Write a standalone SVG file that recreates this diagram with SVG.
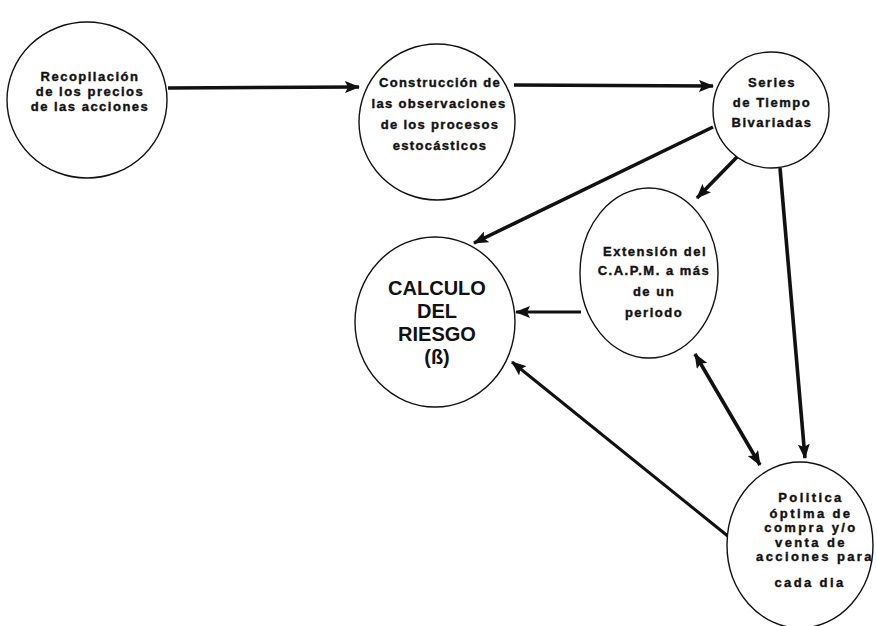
<svg xmlns="http://www.w3.org/2000/svg" width="877" height="626" viewBox="0 0 877 626">
<style>
.node ellipse{fill:#fff;stroke:#111;stroke-width:1.4}
.t{font-family:"Liberation Sans",Arial,sans-serif;font-weight:bold;font-size:13px;letter-spacing:1.5px;fill:#111;stroke:#111;stroke-width:0.4;text-anchor:middle}
.big{font-family:"Liberation Sans",Arial,sans-serif;font-weight:bold;font-size:20px;fill:#111;text-anchor:middle}
.c line{stroke:#111;stroke-width:3.6;fill:none}
</style>
<defs>
<marker id="ah" markerUnits="userSpaceOnUse" markerWidth="16" markerHeight="12" refX="14" refY="6" orient="auto">
<path d="M0,0 L15,6 L0,12 L3,6 Z" fill="#111"/>
</marker>
<marker id="ahs" markerUnits="userSpaceOnUse" markerWidth="16" markerHeight="12" refX="14" refY="6" orient="auto-start-reverse">
<path d="M0,0 L15,6 L0,12 L3,6 Z" fill="#111"/>
</marker>
</defs>
<g class="c" id="connectors">
<line x1="168" y1="88" x2="359" y2="87" marker-end="url(#ah)"/>
<line x1="514" y1="85" x2="713" y2="86" marker-end="url(#ah)"/>
<line x1="713" y1="127" x2="474" y2="243" marker-end="url(#ah)"/>
<line x1="737" y1="157" x2="697" y2="198" marker-end="url(#ah)"/>
<line x1="780" y1="168" x2="805" y2="458" marker-end="url(#ah)"/>
<line x1="581" y1="312" x2="516" y2="312" marker-end="url(#ah)" style="stroke-width:3"/>
<line x1="695" y1="354" x2="760" y2="465" marker-start="url(#ahs)" marker-end="url(#ahs)"/>
<line x1="729" y1="537" x2="512" y2="362" marker-end="url(#ah)" style="stroke-width:3"/>
</g>
<g class="node" id="n1">
<ellipse cx="87" cy="100" rx="80" ry="78"/>
<text class="t"><tspan x="90" y="81">Recopilación</tspan><tspan x="90" y="96">de los precios</tspan><tspan x="90" y="111">de las acciones</tspan></text>
</g>
<g class="node" id="n2">
<ellipse cx="437" cy="122" rx="78" ry="78"/>
<text class="t" style="letter-spacing:1.3px"><tspan x="440" y="87">Construcción de</tspan><tspan x="439" y="108">las observaciones</tspan><tspan x="440" y="129">de los procesos</tspan><tspan x="440" y="150">estocásticos</tspan></text>
</g>
<g class="node" id="n3">
<ellipse cx="771" cy="110" rx="58" ry="58"/>
<text class="t"><tspan x="772" y="87">Series</tspan><tspan x="772" y="107">de Tiempo</tspan><tspan x="772" y="127">Bivariadas</tspan></text>
</g>
<g class="node" id="n4">
<ellipse cx="649" cy="273" rx="69" ry="85"/>
<text class="t"><tspan x="655" y="256">Extensión del</tspan><tspan x="654" y="275">C.A.P.M. a más</tspan><tspan x="654" y="296">de un</tspan><tspan x="654" y="317">periodo</tspan></text>
</g>
<g class="node" id="n5">
<ellipse cx="435" cy="322" rx="80" ry="85"/>
<text class="big"><tspan x="437" y="295">CALCULO</tspan><tspan x="437" y="318">DEL</tspan><tspan x="437" y="341">RIESGO</tspan><tspan x="437" y="364">(ß)</tspan></text>
</g>
<g class="node" id="n6">
<ellipse cx="800" cy="545" rx="73" ry="83"/>
<text class="t" style="letter-spacing:2.4px"><tspan x="811" y="502">Politica</tspan><tspan x="811" y="518">óptima de</tspan><tspan x="811" y="532">compra y/o</tspan><tspan x="811" y="547">venta de</tspan><tspan x="815" y="561">acciones para</tspan><tspan x="810" y="587">cada dia</tspan></text>
</g>
</svg>
